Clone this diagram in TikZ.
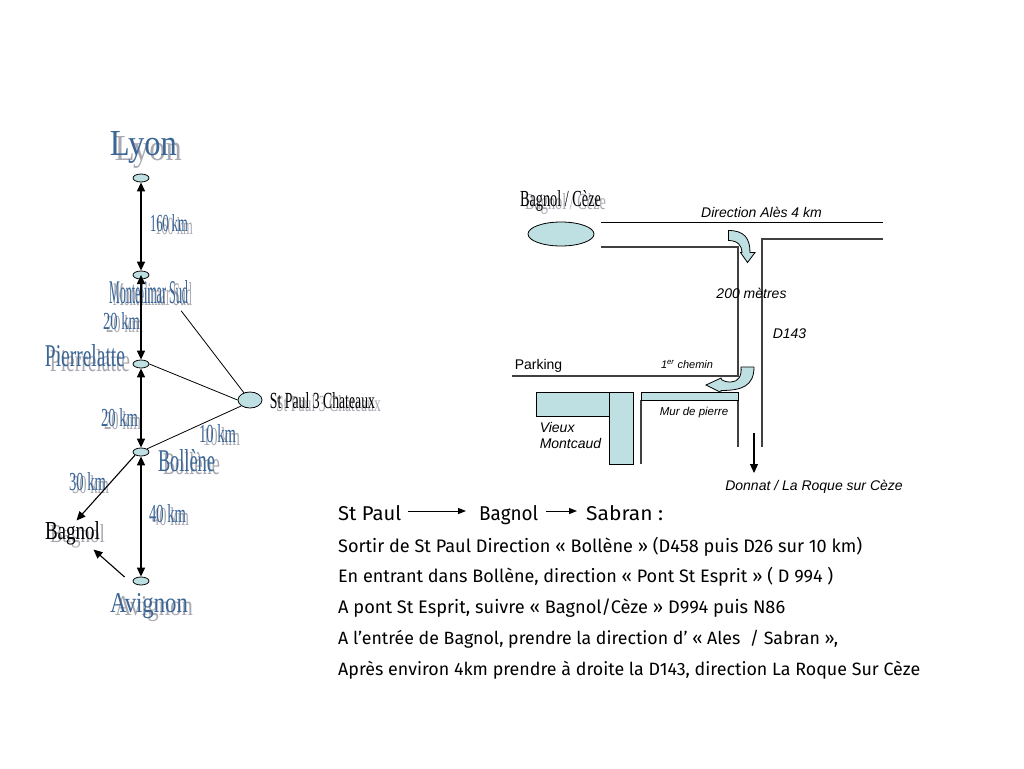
\documentclass[tikz,border=0pt]{standalone}
\usepackage{fontspec}
\setmainfont{Liberation Serif}
\setsansfont{Liberation Sans}
\newfontfamily\notefont{Fira Sans}
\usepackage{xcolor}
\usetikzlibrary{arrows.meta, positioning, shapes.geometric, calc}

\definecolor{townfill}{HTML}{BFE0E3}
\definecolor{wordblue}{HTML}{3A6595}
\definecolor{wordgray}{HTML}{A9A9B2}
\definecolor{roadgray}{HTML}{404040}

\tikzset{
  town/.style={draw, fill=townfill, ellipse, inner sep=0pt, line width=0.8pt},
  wordlabel/.style={inner sep=0pt, font=\rmfamily},
  roadline/.style={draw=roadgray, line width=1.2pt},
  roadarrow/.style={line width=1.5pt, {Triangle[length=9pt,width=8pt]}-{Triangle[length=9pt,width=8pt]}},
  sidearrow/.style={line width=1.1pt, -{Triangle[length=9pt,width=8pt]}},
  turnarrow/.style={draw=black, fill=townfill, line width=0.8pt},
  plannote/.style={inner sep=0pt, font=\sffamily\itshape\fontsize{14}{16}\selectfont, align=left},
  routeline/.style={inner sep=0pt, anchor=base west, font=\notefont},
}

\begin{document}
\begin{tikzpicture}[x=1pt, y=-1pt, >={Triangle[length=8pt,width=6pt]}]
  \useasboundingbox (0,0) rectangle (1024,768);

  % towns
  \foreach \n/\y in {lyon/178, montelimar/275, pierrelatte/364, bollene/452, avignon/581} {
    \node[town, minimum width=16pt, minimum height=8pt] (\n) at (141,\y) {};
  }
  \node[town, minimum width=24pt, minimum height=16pt] (stpaul) at (250,400) {};
  \node[town, minimum width=66pt, minimum height=24pt] (bagnolceze) at (561,234) {};

  % word art labels: name/centre/size/shadow offset/colour/text
  \foreach \n/\x/\y/\w/\h/\sx/\sy/\c/\t in {
    lyonlab/143.5/147.5/67/24/5/5/wordblue/Lyon,
    dista/169/223.5/38/17/5/3/wordblue/160 km,
    montelimarlab/148.5/292/79/23/4/2/wordblue/Montelimar Sud,
    distb/121.5/321.5/37/17/3/3/wordblue/20 km,
    pierrelattelab/85/356/80/22/5/5/wordblue/Pierrelatte,
    stpaullab/322.5/401/105/16/6/3/black/St Paul 3 Chateaux,
    distc/119.5/418/37/18/3/3/wordblue/20 km,
    distd/217.5/434/37/18/4/3/wordblue/10 km,
    bollenelab/186.5/461/57/22/5/3/wordblue/Bollène,
    diste/87.5/482/37/18/3/3/wordblue/30 km,
    distf/167.5/514/37/18/3/3/wordblue/40 km,
    bagnollab/72.5/533.5/55/18/5/3/black/Bagnol,
    avignonlab/149/606/78/19/5/3/wordblue/Avignon,
    cezelab/560.5/200.5/81/16/5/3/black/{Bagnol / Cèze}} {
    \node[wordlabel, text=wordgray] at (\x+\sx,\y+\sy) {\resizebox{\w pt}{\h pt}{\t}};
    \node[wordlabel, text=\c] (\n) at (\x,\y) {\resizebox{\w pt}{\h pt}{\t}};
  }

  % the N7 and its branches
  \draw[roadarrow] (lyon.south) -- (montelimar.north);
  \draw[roadarrow] (montelimar.center) -- (pierrelatte.north);
  \draw[roadarrow] (pierrelatte.south) -- (bollene.north);
  \draw[roadarrow] (bollene.south) -- (avignon.north);
  \draw[line width=0.8pt] (pierrelatte.east) -- (stpaul.west);
  \draw[line width=0.8pt] (bollene.north east) -- (stpaul.south west);
  \draw[line width=0.8pt] ($(montelimarlab.south east)+(-7,7)$) -- (stpaul.130);
  \draw[sidearrow] (bollene.south west) -- ($(bagnollab.north)+(4,-1)$);
  \draw[sidearrow] ($(avignon.west)+(-8,-4)$) -- ($(bagnollab.south)+(21,4)$);

  % plan of the roads
  \draw[line width=1pt] (601,222.5) -- (883,222.5);
  \draw[roadline] (601,247) -- (738,247) -- (738,376) -- (512,376);
  \draw[roadline] (883,239) -- (762,239) -- (762,447);
  \draw[roadline] (738,392) -- (738,447);
  \draw[roadline] (641,400) -- (641,464);
  \draw[line width=1pt, fill=townfill] (641,392) rectangle (738,400);
  \draw[line width=1pt, fill=townfill] (536,392) rectangle (609,416);
  \draw[line width=1pt, fill=townfill] (609,392) rectangle (633,464);
  \draw[sidearrow] (754,433) -- (754,473);

  % turn arrows
  \draw[turnarrow] (728.5,230.5) .. controls (744,230.5) and (750,238) .. (750,252.5)
    -- (755,252.5) -- (747.5,262.5) -- (740.5,252.5) -- (742,252.5)
    .. controls (742,246) and (738,240.5) .. (728.5,240.5) -- cycle;
  \draw[turnarrow] (754,367) -- (741,367) .. controls (742,376) and (738,382) .. (731,382)
    .. controls (727,382) and (724,381.5) .. (722,380) -- (721,378) -- (706,385) -- (721,392.5) -- (721,390.5)
    .. controls (742,390.5) and (754,386) .. (754,367);

  % plan labels
  \node[plannote] (alesnote) at (761.5,212.5) {Direction Alès 4 km};
  \node[plannote] (metresnote) at (751.5,293) {200 mètres};
  \node[plannote] (dnote) at (789.5,334) {D143};
  \node[plannote, font=\sffamily\itshape\fontsize{11}{13}\selectfont] (cheminnote) at (687,364) {1\textsuperscript{er} chemin};
  \node[plannote, font=\sffamily\fontsize{14}{16}\selectfont] (parkingnote) at (538.5,366) {Parking};
  \node[plannote, font=\sffamily\itshape\fontsize{11.5}{13}\selectfont] (murnote) at (694,413) {Mur de pierre};
  \node[plannote] (vieuxnote) at (570.5,435) {Vieux\\Montcaud};
  \node[plannote] (donnatnote) at (814,487) {Donnat / La Roque sur Cèze};

  % route text
  \foreach \n/\x/\y/\w/\h/\t in {
    startnote/338/520/63/15/St Paul,
    midnote/479/520/59/15/Bagnol,
    endnote/586/520/77/15/Sabran :} {
    \node[routeline] (\n) at (\x,\y) {\resizebox{\w pt}{\h pt}{\t}};
  }
  \draw[->, line width=1pt, shorten <=7pt, shorten >=13pt] ([yshift=9pt]startnote.base east) -- ([yshift=9pt]midnote.base west);
  \draw[->, line width=1pt, shorten <=8pt, shorten >=9pt] ([yshift=9pt]midnote.base east) -- ([yshift=9pt]endnote.base west);

  \foreach \n/\y/\w/\t in {
    linea/552/524/{Sortir de St Paul Direction « Bollène » (D458 puis D26 sur 10 km)},
    lineb/582/495/{En entrant dans Bollène, direction « Pont St Esprit » ( D 994 )},
    linec/613/447/{A pont St Esprit, suivre « Bagnol/Cèze » D994 puis N86},
    lined/644/500/{A l’entrée de Bagnol, prendre la direction d’ « Ales~ / Sabran »,},
    linee/675/582/{Après environ 4km prendre à droite la D143, direction La Roque Sur Cèze}} {
    \node[routeline] (\n) at (338,\y) {\resizebox{\w pt}{!}{\t}};
  }
\end{tikzpicture}
\end{document}
